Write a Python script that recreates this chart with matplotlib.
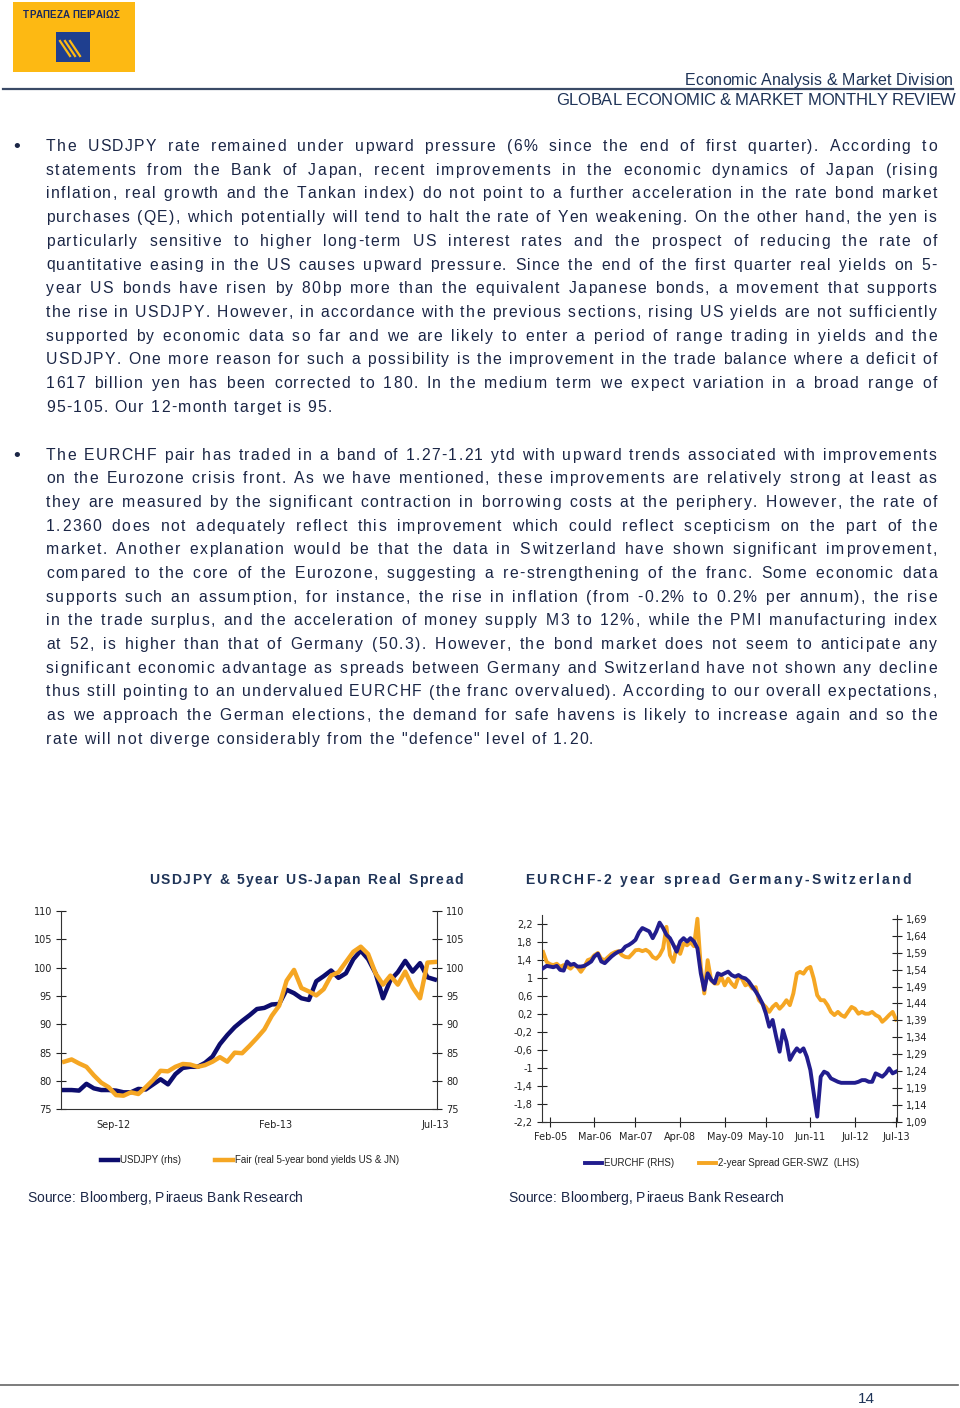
import matplotlib
matplotlib.use('Agg')
import matplotlib.pyplot as plt
import numpy as np
import pandas as pd
from matplotlib import font_manager
from matplotlib.ft2font import FT2Font
from matplotlib.lines import Line2D
from matplotlib.patches import Rectangle

W, H, DPI = 960, 1408, 100

# ---- data: USDJPY vs fair value (weekly) ----
usdjpy_dates = pd.date_range('2012-07-16', periods=51, freq='7D')
usdjpy = [78.4, 78.4, 78.3, 79.5, 78.7, 78.4, 78.4, 78.3, 78.0, 78.0,
          78.6, 78.5, 79.4, 80.3, 79.4, 81.2, 82.3, 82.5, 82.5, 83.2,
          84.3, 86.5, 88.1, 89.5, 90.6, 91.6, 92.7, 92.9, 93.5, 93.6,
          96.1, 95.5, 94.6, 94.3, 97.6, 98.5, 99.5, 98.2, 99.0, 101.5,
          103.0, 101.5, 99.0, 94.6, 97.8, 99.2, 101.2, 99.3, 100.8, 98.3,
          97.9]
fair = [83.4, 83.8, 83.1, 82.5, 81.0, 79.7, 78.9, 77.5, 77.4, 78.0,
        77.7, 78.9, 80.2, 81.8, 81.7, 82.5, 83.0, 82.9, 82.5, 82.8,
        83.4, 84.2, 83.4, 85.0, 84.9, 86.2, 87.6, 89.1, 91.5, 93.3,
        97.7, 99.6, 96.4, 95.8, 95.1, 96.2, 98.6, 99.2, 101.0, 102.8,
        103.7, 102.4, 99.0, 97.0, 98.6, 97.0, 99.3, 96.5, 94.6, 100.9,
        101.0]
usdjpy_ticks = ['2012-09-01', '2013-02-01', '2013-07-01']
usdjpy_ticklabels = ['Sep-12', 'Feb-13', 'Jul-13']

# ---- data: EURCHF vs 2y spread (monthly) ----
eur_dates = pd.date_range('2004-12-01', periods=104, freq='MS') + pd.Timedelta(days=14)
spread = [1.57, 1.35, 1.30, 1.28, 1.31, 1.24, 1.28, 1.25, 1.20, 1.28,
          1.24, 1.13, 1.24, 1.39, 1.42, 1.50, 1.55, 1.42, 1.39, 1.46,
          1.53, 1.57, 1.59, 1.50, 1.46, 1.45, 1.53, 1.61, 1.62, 1.59,
          1.62, 1.57, 1.46, 1.42, 1.50, 1.65, 2.13, 1.50, 1.35, 1.68,
          1.53, 1.76, 1.72, 1.79, 1.70, 2.31, 1.24, 0.65, 1.39, 0.94,
          0.87, 0.87, 1.02, 0.83, 0.98, 0.87, 0.79, 1.02, 0.98, 0.83,
          0.87, 0.76, 0.79, 0.50, 0.42, 0.35, 0.24, 0.35, 0.42, 0.31,
          0.39, 0.50, 0.39, 0.65, 1.09, 1.13, 1.09, 1.20, 1.24, 0.98,
          0.61, 0.50, 0.50, 0.39, 0.24, 0.17, 0.24, 0.17, 0.13, 0.24,
          0.35, 0.31, 0.20, 0.24, 0.20, 0.20, 0.24, 0.17, 0.13, 0.02,
          0.09, 0.17, 0.24, 0.07]
eurchf = [1.544, 1.551, 1.549, 1.547, 1.551, 1.539, 1.537, 1.564, 1.554, 1.557,
          1.549, 1.549, 1.551, 1.557, 1.564, 1.579, 1.587, 1.564, 1.559, 1.569,
          1.579, 1.587, 1.593, 1.596, 1.608, 1.613, 1.620, 1.628, 1.650, 1.663,
          1.658, 1.653, 1.633, 1.653, 1.679, 1.663, 1.643, 1.633, 1.613, 1.593,
          1.623, 1.633, 1.623, 1.633, 1.623, 1.603, 1.529, 1.480, 1.529, 1.510,
          1.500, 1.529, 1.524, 1.529, 1.534, 1.524, 1.519, 1.524, 1.517, 1.514,
          1.505, 1.490, 1.475, 1.460, 1.440, 1.411, 1.371, 1.391, 1.342, 1.297,
          1.361, 1.327, 1.273, 1.292, 1.307, 1.297, 1.307, 1.282, 1.243, 1.174,
          1.105, 1.223, 1.238, 1.233, 1.218, 1.213, 1.208, 1.205, 1.205, 1.205,
          1.205, 1.205, 1.208, 1.213, 1.213, 1.208, 1.208, 1.233, 1.228, 1.223,
          1.233, 1.248, 1.233, 1.238]
eur_ticks = ['2005-02-15', '2006-03-15', '2007-03-15', '2008-04-15', '2009-05-15',
             '2010-05-15', '2011-06-15', '2012-07-15', '2013-07-15']
eur_ticklabels = ['Feb-05', 'Mar-06', 'Mar-07', 'Apr-08', 'May-09',
                  'May-10', 'Jun-11', 'Jul-12', 'Jul-13']

para1 = [
    "The USDJPY rate remained under upward pressure (6% since the end of first quarter). According to",
    "statements from the Bank of Japan, recent improvements in the economic dynamics of Japan (rising",
    "inflation, real growth and the Tankan index) do not point to a further acceleration in the rate bond market",
    "purchases (QE), which potentially will tend to halt the rate of Yen weakening. On the other hand, the yen is",
    "particularly sensitive to higher long-term US interest rates and the prospect of reducing the rate of",
    "quantitative easing in the US causes upward pressure. Since the end of the first quarter real yields on 5-",
    "year US bonds have risen by 80bp more than the equivalent Japanese bonds, a movement that supports",
    "the rise in USDJPY. However, in accordance with the previous sections, rising US yields are not sufficiently",
    "supported by economic data so far and we are likely to enter a period of range trading in yields and the",
    "USDJPY. One more reason for such a possibility is the improvement in the trade balance where a deficit of",
    "1617 billion yen has been corrected to 180. In the medium term we expect variation in a broad range of",
    "95-105. Our 12-month target is 95.",
]
para2 = [
    "The EURCHF pair has traded in a band of 1.27-1.21 ytd with upward trends associated with improvements",
    "on the Eurozone crisis front. As we have mentioned, these improvements are relatively strong at least as",
    "they are measured by the significant contraction in borrowing costs at the periphery. However, the rate of",
    "1.2360 does not adequately reflect this improvement which could reflect scepticism on the part of the",
    "market. Another explanation would be that the data in Switzerland have shown significant improvement,",
    "compared to the core of the Eurozone, suggesting a re-strengthening of the franc. Some economic data",
    "supports such an assumption, for instance, the rise in inflation (from -0.2% to 0.2% per annum), the rise",
    "in the trade surplus, and the acceleration of money supply M3 to 12%, while the PMI manufacturing index",
    "at 52, is higher than that of Germany (50.3). However, the bond market does not seem to anticipate any",
    "significant economic advantage as spreads between Germany and Switzerland have not shown any decline",
    "thus still pointing to an undervalued EURCHF (the franc overvalued). According to our overall expectations,",
    "as we approach the German elections, the demand for safe havens is likely to increase again and so the",
    "rate will not diverge considerably from the \"defence\" level of 1.20.",
]

NAVY = '#0d0d6e'
BLUE2 = '#221d8e'
ORANGE = '#f5a623'
TXT = '#1b2646'
TITLE = '#1f3458'


def pick_family(names):
    for n in names:
        try:
            font_manager.findfont(font_manager.FontProperties(family=n), fallback_to_default=False)
            return n
        except ValueError:
            continue
    return 'DejaVu Sans'


SANS = pick_family(['Liberation Sans', 'Arial'])
NARROW = pick_family(['Liberation Sans Narrow', 'Arial Narrow', 'Liberation Sans'])

fig = plt.figure(figsize=(W / DPI, H / DPI), dpi=DPI)

_fonts = {}


def advances(s, family, size, weight='normal'):
    key = (family, size, weight)
    if key not in _fonts:
        path = font_manager.findfont(font_manager.FontProperties(family=family, weight=weight))
        f = FT2Font(path)
        f.set_size(size, DPI)
        _fonts[key] = (f, {})
    f, cache = _fonts[key]
    out = []
    for c in s:
        if c not in cache:
            cache[c] = f.load_char(ord(c)).linearHoriAdvance / 65536.0
        out.append(cache[c])
    return out


def put_chars(s, x, y, size, family, color, weight, tracking):
    adv = advances(s, family, size, weight)
    for c, a in zip(s, adv):
        if c != ' ':
            fig.text(x / W, 1 - y / H, c, fontsize=size, family=family, weight=weight,
                     color=color, ha='left', va='baseline')
        x += a + tracking
    return x


def tracked(s, x, y, size, family, color, weight='normal', width=None, tracking=0.0, ha='left'):
    adv = advances(s, family, size, weight)
    if width is not None and len(s) > 1:
        tracking = (width - sum(adv)) / (len(s) - 1)
    total = sum(adv) + tracking * (len(s) - 1)
    if ha == 'right':
        x -= total
    elif ha == 'center':
        x -= total / 2
    put_chars(s, x, y, size, family, color, weight, tracking)


def paragraph(lines, x0, x1, y0, pitch, size):
    width = x1 - x0
    tr = min((width - sum(advances(l, SANS, size))) / len(l) for l in lines[:-1])
    tr = max(0.0, min(tr, 1.6))
    sp = advances(' ', SANS, size)[0]
    for i, line in enumerate(lines):
        words = line.split(' ')
        ww = [sum(advances(w, SANS, size)) + tr * len(w) for w in words]
        if i < len(lines) - 1 and len(words) > 1:
            gap = (width - sum(ww)) / (len(words) - 1)
        else:
            gap = sp + tr
        x = x0
        y = y0 + pitch * i
        for w, wlen in zip(words, ww):
            put_chars(w, x, y, size, SANS, TXT, 'normal', tr)
            x += wlen + gap


# ---- header ----
fig.patches.append(Rectangle((13 / W, 1 - 72 / H), 122 / W, 70 / H, transform=fig.transFigure,
                             facecolor='#fdb913', edgecolor='none'))
tracked('ΤΡΑΠΕΖΑ ΠΕΙΡΑΙΩΣ', 23, 18, 7, NARROW, '#1c2a5e', weight='bold', width=96)
fig.patches.append(Rectangle((56 / W, 1 - 62 / H), 34 / W, 30 / H, transform=fig.transFigure,
                             facecolor='#1f3f8f', edgecolor='none'))
for off in (0, 5, 10):
    fig.add_artist(Line2D([(60 + off) / W, (70 + off) / W], [1 - 41 / H, 1 - 56 / H],
                          color='#fdb913', lw=1.6))

tracked('Economic Analysis & Market Division', 953, 85, 11.5, NARROW, TITLE, width=268, ha='right')
fig.add_artist(Line2D([3 / W, 953 / W], [1 - 89 / H, 1 - 89 / H], color='#3a4a66', lw=1.6))
tracked('GLOBAL ECONOMIC & MARKET MONTHLY REVIEW', 956, 105, 12, NARROW, TITLE, width=400, ha='right')

# ---- body text ----
for yb in (151, 459.5):
    fig.text(17 / W, 1 - (yb + 1) / H, '•', fontsize=14, family=SANS, color=TXT, ha='center', va='baseline')
paragraph(para1, 46, 938, 151, 23.7, 11.3)
paragraph(para2, 46, 938, 459.5, 23.7, 11.3)

# ---- chart 1: USDJPY ----
ax1 = fig.add_axes([61 / W, 1 - 1109.3 / H, 376 / W, 198.3 / H])
ax1r = ax1.twinx()
l_usd, = ax1r.plot(usdjpy_dates, usdjpy, color=NAVY, lw=3.2, label='USDJPY (rhs)')
l_fair, = ax1.plot(usdjpy_dates, fair, color=ORANGE, lw=3.2,
                   label='Fair (real 5-year bond yields US & JN)')
ax1.set_zorder(ax1r.get_zorder() + 1)
ax1.patch.set_visible(False)
for a in (ax1, ax1r):
    a.set_ylim(75, 110)
    a.set_yticks(np.arange(75, 111, 5))
    a.spines['top'].set_visible(False)
    a.tick_params(axis='y', direction='inout', length=7, width=0.8, labelsize=7, colors='#222', pad=3)
    a.set_xlim(pd.Timestamp('2012-07-13'), pd.Timestamp('2013-07-03'))
ax1.spines['right'].set_visible(False)
ax1r.spines['left'].set_visible(False)
ax1r.spines['bottom'].set_visible(False)
ax1.set_xticks(pd.to_datetime(usdjpy_ticks))
ax1.set_xticklabels(usdjpy_ticklabels)
ax1.tick_params(axis='x', length=0, labelsize=7, pad=8, colors='#222')
for s in ax1.spines.values():
    s.set_color('#333')
for s in ax1r.spines.values():
    s.set_color('#333')

tracked('USDJPY & 5year US-Japan Real Spread', 149, 884, 10, SANS, TITLE, weight='bold', width=314)
fig.legend(handles=[l_usd, l_fair], loc='center', bbox_to_anchor=(250 / W, 1 - 1160 / H), ncol=2,
           frameon=False, prop={'family': NARROW, 'size': 7}, handlelength=1.8, handletextpad=0.2,
           columnspacing=3.5, labelcolor='#222')
tracked('Source: Bloomberg, Piraeus Bank Research', 27, 1202, 10, NARROW, TXT, width=276)

# ---- chart 2: EURCHF ----
ax2 = fig.add_axes([541.7 / W, 1 - 1121.7 / H, 355 / W, 207 / H])
ax2r = ax2.twinx()
l_spr, = ax2.plot(eur_dates, spread, color=ORANGE, lw=2.8, label='2-year Spread GER-SWZ  (LHS)')
l_chf, = ax2r.plot(eur_dates, eurchf, color=BLUE2, lw=2.8, label='EURCHF (RHS)')
ax2.set_ylim(-2.2, 2.4)
lhs_ticks = np.round(np.arange(-2.2, 2.21, 0.4), 1)
ax2.set_yticks(lhs_ticks)
ax2.set_yticklabels([('%.1f' % v).replace('.', ',').replace(',0', '') for v in lhs_ticks])
ax2r.set_ylim(1.09, 1.09 + 207 / 338)
rhs_ticks = np.round(1.09 + 0.05 * np.arange(13), 2)
ax2r.set_yticks(rhs_ticks)
ax2r.set_yticklabels([('%.2f' % v).replace('.', ',') for v in rhs_ticks])
for a in (ax2, ax2r):
    a.set_xlim(pd.Timestamp('2004-12-02'), pd.Timestamp('2013-07-21'))
    a.spines['top'].set_visible(False)
    a.tick_params(axis='y', direction='inout', length=7, width=0.8, labelsize=7, colors='#222', pad=3)
    for s in a.spines.values():
        s.set_color('#333')
ax2.spines['right'].set_visible(False)
ax2r.spines['left'].set_visible(False)
ax2r.spines['bottom'].set_visible(False)
ax2.set_xticks(pd.to_datetime(eur_ticks))
ax2.set_xticklabels(eur_ticklabels)
ax2.tick_params(axis='x', direction='inout', length=7, width=0.8, labelsize=7, pad=4, colors='#222')

tracked('EURCHF-2 year spread Germany-Switzerland', 525, 884, 10, SANS, TITLE, weight='bold', width=386)
fig.legend(handles=[l_chf, l_spr], loc='center', bbox_to_anchor=(722 / W, 1 - 1163 / H), ncol=2,
           frameon=False, prop={'family': NARROW, 'size': 7}, handlelength=1.8, handletextpad=0.2,
           columnspacing=2.5, labelcolor='#222')
tracked('Source: Bloomberg, Piraeus Bank Research', 508, 1202, 10, NARROW, TXT, width=276)

# ---- footer ----
fig.add_artist(Line2D([0, 958 / W], [1 - 1385 / H, 1 - 1385 / H], color='#666', lw=1.2))
fig.text(866 / W, 1 - 1403 / H, '14', fontsize=11, family=NARROW, color=TITLE, ha='center', va='baseline')

fig.savefig('out.png', dpi=DPI)
